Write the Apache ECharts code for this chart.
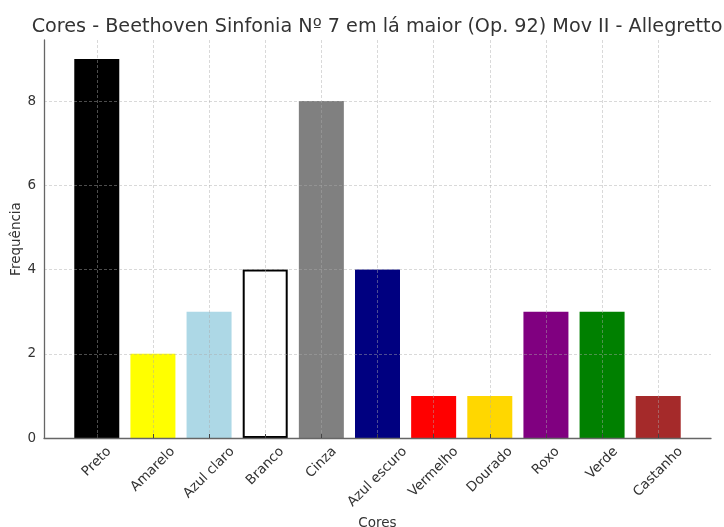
<!DOCTYPE html>
<html>
<head>
<meta charset="utf-8">
<script src="https://cdn.jsdelivr.net/npm/echarts@6/dist/echarts.min.js"></script>
<style>
  html, body { margin: 0; padding: 0; background: #fff; }
  #chart { width: 724px; height: 527px; }
</style>
</head>
<body>
<div id="chart"></div>
<script>
// Colour names and how often each appears
const categories = ['Preto', 'Amarelo', 'Azul claro', 'Branco', 'Cinza', 'Azul escuro', 'Vermelho', 'Dourado', 'Roxo', 'Verde', 'Castanho'];
const frequencies = [9, 2, 3, 4, 8, 4, 1, 1, 3, 3, 1];
const barColors = ['#000000', '#ffff00', '#add8e6', '#ffffff', '#808080', '#000080', '#ff0000', '#ffd700', '#800080', '#008000', '#a52a2a'];
const yTicks = [0, 2, 4, 6, 8];

const positions = categories.map((_, i) => i);
// x range leaves a margin of half a gap on each side of the outer bars
const xMin = -0.94;
const xMax = 10.94;
// Blank end stops at the axis limits take the min/max label slots, so every
// category label is kept when ECharts checks the end labels for overlap.
const xStops = [xMin].concat(positions, [xMax]);

const fontFamily = 'DejaVu Sans';
const labelFontSize = 13.5;
const labelLineHeight = 15.5;
const labelTopGap = 6; // distance from the axis line to the top of each rotated label

// Rotated tick labels are centred under their tick: each label gets padding
// that moves its box so the top corner sits just below the axis line.
const measureCtx = document.createElement('canvas').getContext('2d');
measureCtx.font = labelFontSize + 'px "' + fontFamily + '"';
const labelRich = {};
categories.forEach((name, i) => {
  const w = measureCtx.measureText(name).width;
  const drop = labelTopGap + 0.3536 * (w + labelLineHeight);
  const pad = 1.4142 * drop;
  labelRich['c' + i] = {
    fontFamily,
    fontSize: labelFontSize,
    lineHeight: labelLineHeight,
    color: '#333333',
    padding: [pad, pad, 0, 0]
  };
});

const gridLine = {
  show: true,
  showMinLine: false,
  showMaxLine: false,
  lineStyle: { color: 'rgba(170,170,170,0.45)', type: [3, 2], width: 1 }
};

const chart = echarts.init(document.getElementById('chart'), null, { renderer: 'canvas' });
chart.setOption({
  animation: false,
  backgroundColor: '#ffffff',
  textStyle: { fontFamily },
  title: {
    text: 'Cores - Beethoven Sinfonia Nº 7 em lá maior (Op. 92) Mov II - Allegretto',
    left: 372,
    top: 13,
    textAlign: 'center',
    textStyle: { fontFamily, fontSize: 19.2, fontWeight: 'normal', color: '#333333' }
  },
  grid: { left: 44, right: 13, top: 40, bottom: 89, containLabel: false, outerBoundsMode: 'none' },
  xAxis: {
    type: 'value',
    min: xMin,
    max: xMax,
    z: 5,
    name: 'Cores',
    nameLocation: 'middle',
    nameGap: 78,
    nameMoveOverlap: false,
    nameTextStyle: { fontFamily, fontSize: 13.5, color: '#333333' },
    axisLine: { show: true, onZero: false, lineStyle: { color: '#666666', width: 1.3 } },
    axisTick: { show: true, inside: true, length: 4, customValues: xStops, lineStyle: { color: '#444444' } },
    axisLabel: {
      customValues: xStops,
      rotate: 45,
      margin: 0,
      align: 'center',
      verticalAlign: 'middle',
      hideOverlap: false,
      showMinLabel: false,
      showMaxLabel: false,
      formatter: v => {
        const i = Math.round(v);
        if (Math.abs(v - i) > 1e-6 || i < 0 || i >= categories.length) return '';
        return '{c' + i + '|' + categories[i] + '}';
      },
      rich: labelRich
    },
    splitLine: gridLine
  },
  yAxis: {
    type: 'value',
    min: 0,
    max: 9.45,
    z: 5,
    name: 'Frequência',
    nameLocation: 'middle',
    nameGap: 21,
    nameMoveOverlap: false,
    nameRotate: 90,
    nameTextStyle: { fontFamily, fontSize: 13.5, color: '#333333' },
    axisLine: { show: true, onZero: false, lineStyle: { color: '#666666', width: 1.3 } },
    axisTick: { show: false, customValues: yTicks },
    axisLabel: { customValues: yTicks, margin: 8, fontFamily, fontSize: 13.5, color: '#333333' },
    splitLine: { show: true, lineStyle: gridLine.lineStyle }
  },
  series: [{
    type: 'bar',
    barWidth: 45,
    data: positions.map(i => ({
      value: [i, frequencies[i]],
      itemStyle: {
        color: barColors[i],
        borderColor: barColors[i] === '#ffffff' ? '#000000' : barColors[i],
        borderWidth: barColors[i] === '#ffffff' ? 2 : 0
      }
    }))
  }]
});
</script>
</body>
</html>
